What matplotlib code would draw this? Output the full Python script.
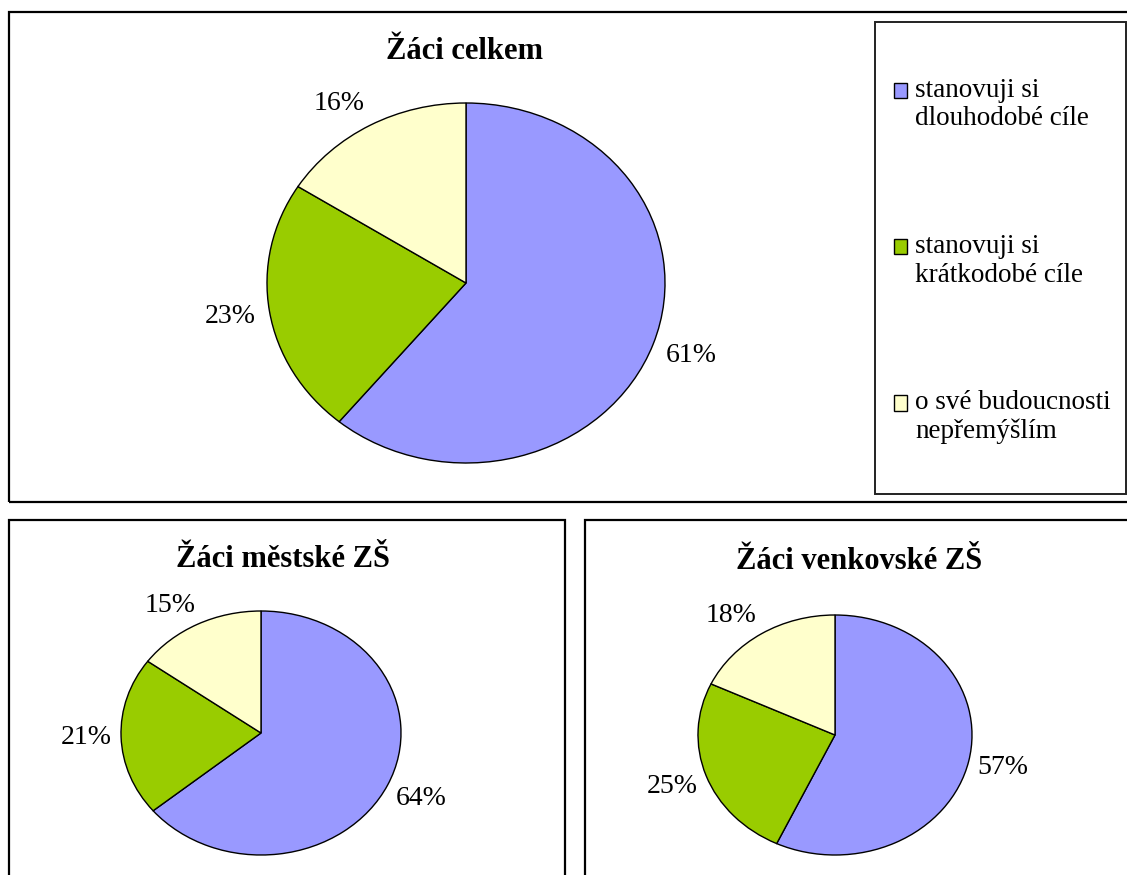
import matplotlib
matplotlib.use("Agg")
import numpy as np
import matplotlib.pyplot as plt
from matplotlib.patches import Rectangle, Wedge
from matplotlib.legend_handler import HandlerPatch

# ---- data ----
categories = ["stanovuji si\ndlouhodobé cíle",
              "stanovuji si\nkrátkodobé cíle",
              "o své budoucnosti\nnepřemýšlím"]
titles = ["Žáci celkem", "Žáci městské ZŠ", "Žáci venkovské ZŠ"]
vals_total = [61, 23, 16]
vals_city = [64, 21, 15]
vals_rural = [57, 25, 18]

colors = ["#9999FF", "#99CC00", "#FFFFCC"]
W, H = 1127, 875
SERIF = ["Liberation Serif", "DejaVu Serif"]

fig = plt.figure(figsize=(W / 100, H / 100), dpi=100)
fig.patch.set_facecolor("white")


def fx(x):
    return x / W


def fy(y):
    return 1 - y / H


def frame(x0, y0, x1, y1, lw=1.6, ec="black"):
    fig.patches.append(Rectangle((fx(x0), fy(y1)), fx(x1) - fx(x0), fy(y0) - fy(y1),
                                 transform=fig.transFigure, fill=False,
                                 edgecolor=ec, linewidth=lw, zorder=0))


# panel frames
frame(9, 12, 1145, 502)
frame(9, 520, 565, 900)
frame(585, 520, 1145, 900)
frame(875, 22, 1126, 494, lw=1.4, ec="#222222")


def pie(vals, cx, cy, rx, ry, d=1.07):
    k = 1.4
    ax = fig.add_axes([fx(cx - k * rx), fy(cy + k * ry), 2 * k * rx / W, 2 * k * ry / H])
    wedges, _ = ax.pie(
        vals, colors=colors, startangle=90, counterclock=False,
        wedgeprops=dict(edgecolor="black", linewidth=1.0))
    total = float(sum(vals))
    for w, v in zip(wedges, vals):
        ang = np.deg2rad((w.theta1 + w.theta2) / 2)
        c, s = np.cos(ang), np.sin(ang)
        ox = 18 * np.clip(2 * c, -1, 1)
        oy = 8 * np.clip(2 * s, -1, 1)
        ax.annotate(f"{100 * v / total:.0f}%", xy=(d * c, d * s),
                    xytext=(ox, oy), textcoords="offset points",
                    ha="center", va="center",
                    fontsize=20, family=SERIF, color="black")
    ax.set_aspect("auto")
    ax.set_xlim(-k, k)
    ax.set_ylim(-k, k)
    ax.axis("off")
    return wedges


wedges = pie(vals_total, 466, 283, 199, 180)
pie(vals_city, 261, 733, 140, 122)
pie(vals_rural, 835, 735, 137, 120)

fig.text(fx(464), fy(59), titles[0], ha="center", va="baseline",
         fontsize=22, fontweight="bold", family=SERIF)
fig.text(fx(283), fy(567), titles[1], ha="center", va="baseline",
         fontsize=22, fontweight="bold", family=SERIF)
fig.text(fx(859), fy(569), titles[2], ha="center", va="baseline",
         fontsize=22, fontweight="bold", family=SERIF)

LEG_FS = 19.5


def square(legend, orig_handle, xdescent, ydescent, width, height, fontsize):
    shift = 0.5 * 28 * 72 / 100  # half a text line, in points
    return Rectangle((-xdescent, -ydescent + shift), width, height)


fig.legend(wedges, categories, loc="center left",
           bbox_to_anchor=(fx(880), fy(261)), frameon=False, borderpad=0,
           prop=dict(family=SERIF, size=LEG_FS), labelspacing=3.78,
           handlelength=0.5, handleheight=0.5, handletextpad=0.3,
           handler_map={Wedge: HandlerPatch(patch_func=square)})

fig.savefig("out.png", dpi=100, facecolor="white")
